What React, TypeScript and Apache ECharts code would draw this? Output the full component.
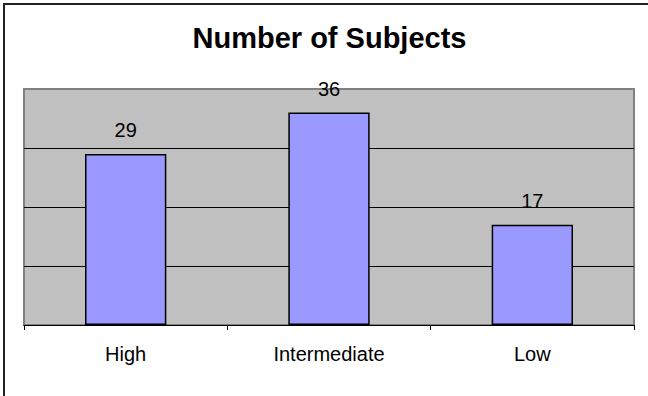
import React, { useEffect, useRef } from "react";
import * as echarts from "echarts";

const categories = ["High", "Intermediate", "Low"];
const subjects = [29, 36, 17];
const titleText = "Number of Subjects";

const FONT = '"Liberation Sans", Arial, sans-serif';

export default function App() {
  const ref = useRef<HTMLDivElement>(null);

  useEffect(() => {
    document.body.style.margin = "0";
    if (!ref.current) return;
    const chart = echarts.init(ref.current, undefined, { renderer: "svg" });
    chart.setOption({
      animation: false,
      backgroundColor: "#ffffff",
      grid: {
        left: 24,
        right: 14,
        top: 89,
        bottom: 71,
        show: true,
        backgroundColor: "#C0C0C0",
        borderColor: "#808080",
        borderWidth: 2,
      },
      graphic: [
        {
          type: "rect",
          shape: { x: 4, y: 4, width: 800, height: 600 },
          style: { fill: "none", stroke: "#222222", lineWidth: 2 },
          z: 100,
        },
        {
          type: "text",
          x: 329.5,
          y: 38,
          style: {
            text: titleText,
            font: `bold 29px ${FONT}`,
            fill: "#000000",
            align: "center",
            verticalAlign: "middle",
          },
          z: 100,
        },
      ],
      xAxis: {
        type: "category",
        data: categories,
        boundaryGap: true,
        axisLine: { show: true, lineStyle: { color: "#000000", width: 1 } },
        axisTick: { show: true, length: 5, lineStyle: { color: "#000000" } },
        axisLabel: {
          margin: 19,
          color: "#000000",
          fontFamily: FONT,
          fontSize: 20,
        },
        splitLine: { show: false },
      },
      yAxis: {
        type: "value",
        min: 0,
        max: 40,
        interval: 10,
        axisLine: { show: false },
        axisTick: { show: false },
        axisLabel: { show: false },
        splitLine: {
          show: true,
          lineStyle: {
            color: ["#000000", "#000000", "#000000", "#000000", "#808080"],
            width: 1,
          },
        },
      },
      series: [
        {
          type: "bar",
          data: subjects,
          barWidth: "40%",
          itemStyle: {
            color: "#9999FF",
            borderColor: "#000000",
            borderWidth: 1.5,
          },
          label: {
            show: true,
            position: "top",
            distance: 14,
            color: "#000000",
            fontFamily: FONT,
            fontSize: 20,
          },
        },
      ],
    });
    return () => chart.dispose();
  }, []);

  return <div ref={ref} style={{ width: 648, height: 396 }} />;
}
